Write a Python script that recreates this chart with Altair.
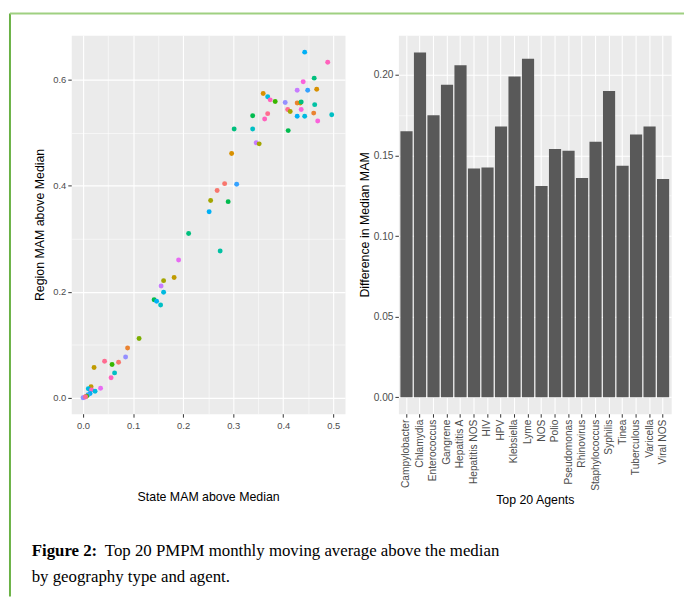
import altair as alt
import pandas as pd

# ---------------- data ----------------
agents = ["Campylobacter", "Chlamydia", "Enterococcus", "Gangrene", "Hepatitis A",
          "Hepatitis NOS", "HIV", "HPV", "Klebsiella", "Lyme", "NOS", "Polio",
          "Pseudomonas", "Rhinovirus", "Staphylococcus", "Syphilis", "Tinea",
          "Tuberculous", "Varicella", "Viral NOS"]
diff_median = [0.165, 0.214, 0.175, 0.194, 0.206, 0.142, 0.1426, 0.168, 0.199, 0.210,
               0.131, 0.154, 0.153, 0.136, 0.1585, 0.190, 0.1436, 0.163, 0.168, 0.1354]

state_mam = [0.443, 0.489, 0.462, 0.440, 0.428, 0.449, 0.467, 0.360, 0.369, 0.374,
             0.384, 0.404, 0.428, 0.434, 0.436, 0.463, 0.409, 0.414, 0.436, 0.461,
             0.428, 0.443, 0.497, 0.369, 0.363, 0.469, 0.339, 0.302, 0.339, 0.410,
             0.346, 0.352, 0.297, 0.283, 0.307, 0.268, 0.255, 0.290, 0.252, 0.211,
             0.274, 0.191, 0.182, 0.161, 0.156, 0.161, 0.142, 0.147, 0.155, 0.112,
             0.089, 0.085, 0.043, 0.071, 0.058, 0.022, 0.063, 0.056, 0.035, 0.016,
             0.0105, 0.017, 0.024, 0.014, 0.010, 0.007, 0.003, 0.000, 0.005]
region_mam = [0.652, 0.633, 0.603, 0.596, 0.580, 0.580, 0.582, 0.574, 0.568, 0.562,
              0.559, 0.557, 0.556, 0.556, 0.558, 0.553, 0.544, 0.540, 0.544, 0.537,
              0.531, 0.531, 0.534, 0.536, 0.526, 0.522, 0.532, 0.507, 0.507, 0.504,
              0.481, 0.479, 0.461, 0.404, 0.403, 0.391, 0.372, 0.370, 0.351, 0.310,
              0.277, 0.260, 0.227, 0.221, 0.211, 0.199, 0.185, 0.182, 0.175, 0.112,
              0.094, 0.077, 0.069, 0.067, 0.063, 0.057, 0.047, 0.038, 0.018, 0.021,
              0.017, 0.015, 0.0125, 0.008, 0.006, 0.003, 0.001, 0.000, 0.002]
point_agent_idx = [12, 18, 8, 17, 15, 13, 2, 2, 11, 18, 6, 14, 1, 2, 8, 9, 19, 4, 17, 1,
                   12, 11, 10, 19, 18, 17, 7, 8, 10, 7, 15, 4, 2, 0, 13, 0, 4, 7, 12, 8,
                   9, 16, 3, 4, 15, 11, 7, 12, 10, 5, 1, 14, 19, 0, 6, 3, 10, 18, 16, 3,
                   11, 18, 11, 12, 13, 6, 16, 14, 19]

hue20 = ["#F8766D", "#EA8331", "#D89000", "#C09B00", "#A3A500", "#7CAE00", "#39B600",
         "#00BB4E", "#00BF7D", "#00C1A3", "#00BFC4", "#00BAE0", "#00B0F6", "#35A2FF",
         "#9590FF", "#C77CFF", "#E76BF3", "#FA62DB", "#FF62BC", "#FF6C91"]

scatter_x_ticks = [0.0, 0.05, 0.1, 0.15, 0.2, 0.25, 0.3, 0.35, 0.4, 0.45, 0.5]
scatter_y_ticks = [0.0, 0.1, 0.2, 0.3, 0.4, 0.5, 0.6]
bar_y_ticks = [0.0, 0.025, 0.05, 0.075, 0.1, 0.125, 0.15, 0.175, 0.2]

caption_bold = "Figure 2:"
caption_line1 = "Top 20 PMPM monthly moving average above the median"
caption_line2 = "by geography type and agent."

# ---------------- helpers ----------------
major10 = "abs(datum.value*10 - round(datum.value*10)) < 0.001"
major5 = "abs(datum.value*5 - round(datum.value*5)) < 0.001"
major20 = "abs(datum.value*20 - round(datum.value*20)) < 0.001"


def cond(test, a, b):
    return {"condition": {"test": test, "value": a}, "value": b}


# ---------------- scatter ----------------
pts = pd.DataFrame({"state": state_mam, "region": region_mam,
                    "agent": [agents[i] for i in point_agent_idx]})

points = alt.Chart(pts).mark_circle(size=25, opacity=1).encode(
    x=alt.X("state:Q", title="State MAM above Median",
            scale=alt.Scale(domain=[-0.0236, 0.5236], nice=False, zero=False),
            axis=alt.Axis(values=scatter_x_ticks,
                          labelExpr=f"{major10} ? format(datum.value, '.1f') : ''",
                          gridWidth=cond(major10, 1.1, 0.55),
                          tickOpacity=cond(major10, 1, 0),
                          labelFontSize=9.5, labelPadding=3, titlePadding=62)),
    y=alt.Y("region:Q", title="Region MAM above Median",
            scale=alt.Scale(domain=[-0.030, 0.684], nice=False, zero=False),
            axis=alt.Axis(values=scatter_y_ticks,
                          labelExpr=f"{major5} ? format(datum.value, '.1f') : ''",
                          gridWidth=cond(major5, 1.1, 0.55),
                          tickOpacity=cond(major5, 1, 0),
                          labelFontSize=9.5, labelPadding=2, titlePadding=6)),
    color=alt.Color("agent:N", scale=alt.Scale(domain=agents, range=hue20), legend=None),
)

one = pd.DataFrame({"k": [0]})
border_left = alt.Chart(one).mark_rule(color="#6AB245", strokeWidth=2).encode(
    x=alt.value(-62), y=alt.value(-22), y2=alt.value(568))
border_top = alt.Chart(one).mark_rule(color="#9FD081", strokeWidth=2).encode(
    x=alt.value(-62), x2=alt.value(620), y=alt.value(-22))

cap_b = alt.Chart(one).mark_text(text=caption_bold, align="left", baseline="alphabetic",
                                 font="Liberation Serif", fontSize=17, fontWeight="bold",
                                 color="black").encode(x=alt.value(-40), y=alt.value(527))
cap_1 = alt.Chart(one).mark_text(text=caption_line1, align="left", baseline="alphabetic",
                                 font="Liberation Serif", fontSize=17,
                                 color="black").encode(x=alt.value(34), y=alt.value(527))
cap_2 = alt.Chart(one).mark_text(text=caption_line2, align="left", baseline="alphabetic",
                                 font="Liberation Serif", fontSize=17,
                                 color="black").encode(x=alt.value(-40), y=alt.value(553))

scatter = alt.layer(points, border_left, border_top, cap_b, cap_1, cap_2).properties(
    width=277, height=383)

# ---------------- bars ----------------
bdf = pd.DataFrame({"agent": agents, "diff": diff_median})
bars = alt.Chart(bdf).mark_bar(color="#595959").encode(
    x=alt.X("agent:N", sort=agents, title="Top 20 Agents",
            scale=alt.Scale(paddingInner=0.1, paddingOuter=0.15),
            axis=alt.Axis(labelAngle=270, bandPosition=0.5, grid=True, gridWidth=1.1,
                          labelFontSize=10.3, labelPadding=2, titlePadding=3)),
    y=alt.Y("diff:Q", title="Difference in Median MAM",
            scale=alt.Scale(domain=[-0.0103, 0.2247], nice=False, zero=False),
            axis=alt.Axis(values=bar_y_ticks,
                          labelExpr=f"{major20} ? format(datum.value, '.2f') : ''",
                          gridWidth=cond(major20, 1.1, 0.55),
                          tickOpacity=cond(major20, 1, 0),
                          labelFontSize=10.3, labelPadding=2, titlePadding=2)),
).properties(width=276, height=383)

chart = alt.hconcat(scatter, bars, spacing=54, bounds="flush").properties(
    padding={"left": 0, "top": 0, "right": 0, "bottom": 0}
).configure_view(
    fill="#EBEBEB", stroke="transparent"
).configure_axis(
    labelFont="Liberation Sans", titleFont="Liberation Sans", titleFontWeight="normal",
    titleFontSize=12.5, titleColor="black", labelColor="#4D4D4D",
    tickColor="#333333", tickSize=3.5, tickWidth=1, gridColor="white", domain=False
)

chart.save("out.html", embed_options={"renderer": "svg", "actions": False})
